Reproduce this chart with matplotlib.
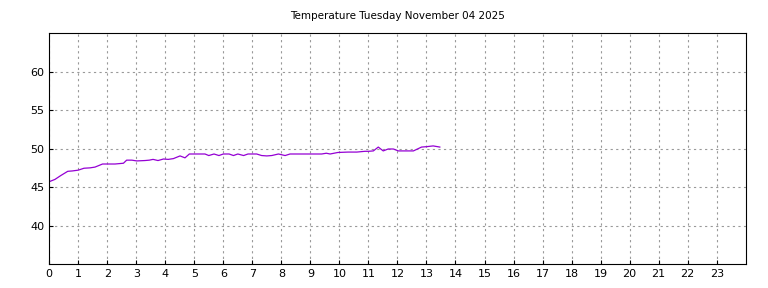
"""Temperature over one day, hourly x axis."""

import matplotlib
matplotlib.use("Agg")
import matplotlib.pyplot as plt

title = "Temperature Tuesday November 04 2025"

# hours since midnight and temperature readings
hours = [0.0, 0.2, 0.4, 0.64, 0.8, 1.0, 1.2, 1.41, 1.58, 1.84, 2.05, 2.27, 2.56, 2.67,
         2.85, 3.02, 3.3, 3.45, 3.58, 3.75, 3.94, 4.1, 4.28, 4.51, 4.68, 4.83, 5.0,
         5.2, 5.37, 5.5, 5.68, 5.85, 6.0, 6.2, 6.35, 6.5, 6.7, 6.85, 7.0, 7.15, 7.32,
         7.5, 7.67, 7.9, 8.13, 8.3, 8.6, 9.0, 9.39, 9.55, 9.68, 9.95, 10.3, 10.6, 10.88,
         11.0, 11.17, 11.34, 11.51, 11.68, 11.86, 12.03, 12.3, 12.55, 12.83, 13.0,
         13.23, 13.46]
temps = [45.7, 46.0, 46.5, 47.05, 47.1, 47.2, 47.45, 47.5, 47.6, 48.0, 48.0, 48.0, 48.1,
         48.5, 48.5, 48.4, 48.45, 48.5, 48.6, 48.45, 48.65, 48.6, 48.7, 49.05, 48.8,
         49.3, 49.3, 49.3, 49.3, 49.1, 49.3, 49.1, 49.3, 49.3, 49.1, 49.3, 49.1, 49.3,
         49.3, 49.3, 49.1, 49.05, 49.1, 49.3, 49.1, 49.3, 49.3, 49.3, 49.3, 49.4, 49.3,
         49.5, 49.55, 49.55, 49.65, 49.65, 49.7, 50.2, 49.7, 49.95, 49.95, 49.7, 49.7,
         49.7, 50.2, 50.25, 50.35, 50.2]

x_ticks = list(range(24))
y_ticks = [40, 45, 50, 55, 60]

fig, ax = plt.subplots(figsize=(7.68, 2.88), dpi=100)
fig.subplots_adjust(left=0.064, right=0.971, top=0.885, bottom=0.083)

ax.plot(hours, temps, color="#9400d3", linewidth=0.9)

ax.set_xlim(0, 24)
ax.set_ylim(35, 65)
ax.set_xticks(x_ticks)
ax.set_yticks(y_ticks)
ax.tick_params(labelsize=8, direction="in", length=3)
ax.grid(True, color="#999999", linestyle=(0, (2, 3)), linewidth=0.8)
ax.set_title(title, fontsize=7.5, pad=10)

fig.savefig("out.png", dpi=100)
plt.close(fig)
